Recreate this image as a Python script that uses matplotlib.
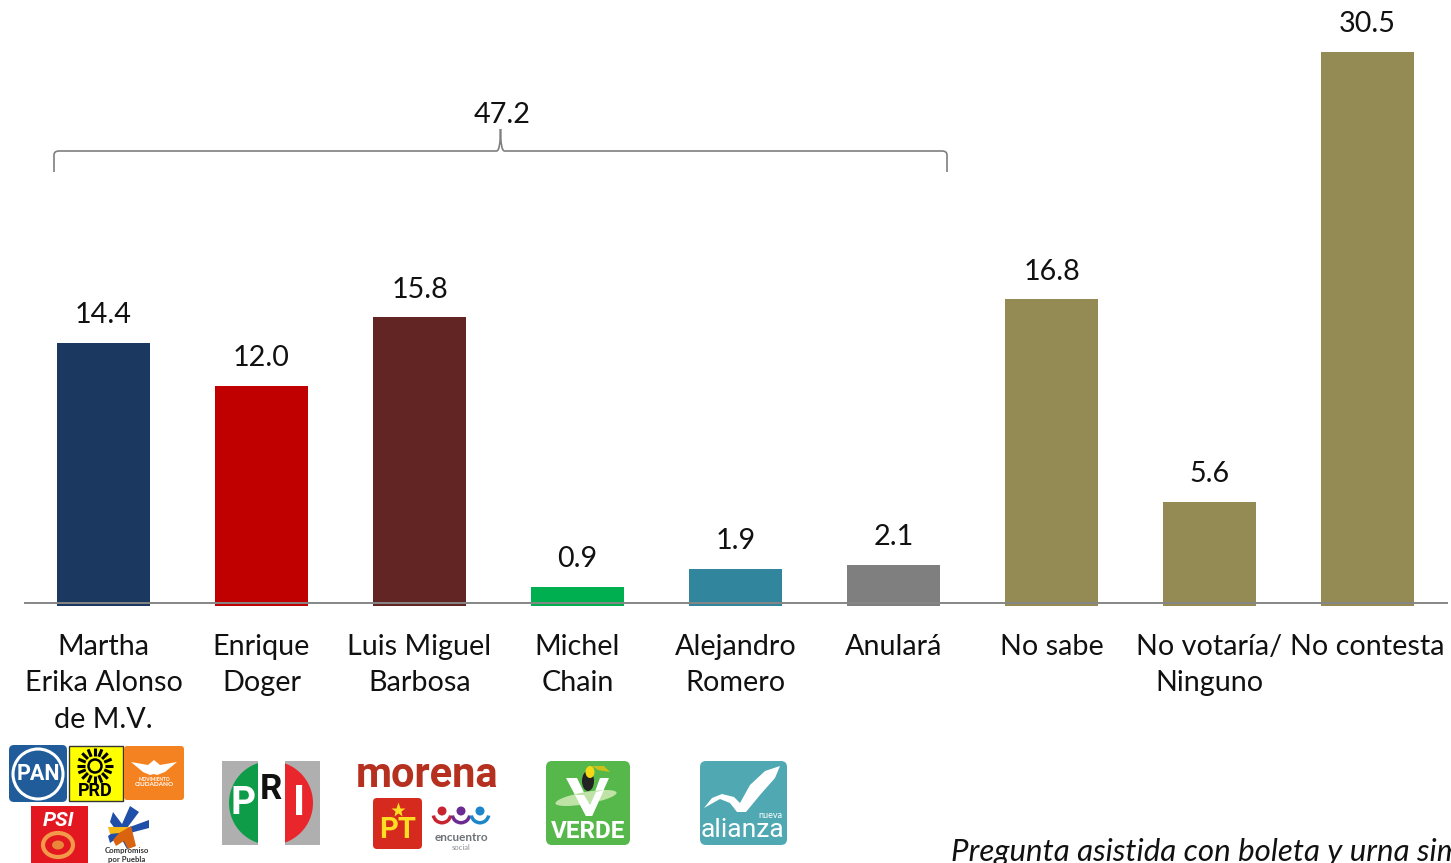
import numpy as np
import matplotlib
matplotlib.use("Agg")
import matplotlib.pyplot as plt
from matplotlib.patches import FancyBboxPatch, Rectangle, Wedge, Polygon, Circle, PathPatch, Ellipse
from matplotlib.path import Path

plt.rcParams['font.family'] = ['Lato', 'DejaVu Sans']

categories = ["Martha\nErika Alonso\nde M.V.", "Enrique\nDoger", "Luis Miguel\nBarbosa", "Michel\nChain",
              "Alejandro\nRomero", "Anulará", "No sabe", "No votaría/\nNinguno", "No contesta"]
values = [14.4, 12.0, 15.8, 0.9, 1.9, 2.1, 16.8, 5.6, 30.5]
bar_colors = ["#1A3860", "#C00000", "#632523", "#00B050", "#31859C", "#7F7F7F", "#948A54", "#948A54", "#948A54"]
bracket_total = "47.2"
footnote = "Pregunta asistida con boleta y urna simulada"

W, H = 1451, 863
LOGO = "Roboto"
fig = plt.figure(figsize=(W / 100, H / 100), dpi=100, facecolor="white")

# main chart: pixel box, baseline at y=603, about 18.07 px per unit
PX = 18.07
base_y = 603
top_y = 20
ax = fig.add_axes([24.5 / W, 1 - base_y / H, (1446.5 - 24.5) / W, (base_y - top_y) / H])
ax.set_xlim(-0.5, len(values) - 0.5)
ax.set_ylim(0, (base_y - top_y) / PX)
x = np.arange(len(values))
overhang = 0.15
ax.bar(x, np.array(values) + overhang, bottom=-overhang, width=0.592, color=bar_colors, clip_on=False, zorder=1)
for xi, v in zip(x, values):
    ax.annotate(f"{v:.1f}", (xi, v), xytext=(0, 20), textcoords="offset points",
                ha="center", va="center", fontsize=20.7, color="#111111")
for s in ["top", "left", "right"]:
    ax.spines[s].set_visible(False)
ax.spines["bottom"].set_color("#868686")
ax.spines["bottom"].set_linewidth(1.4)
ax.spines["bottom"].set_zorder(3)
ax.set_yticks([])
ax.set_xticks(x)
ax.set_xticklabels(categories, fontsize=20.7, color="#111111", linespacing=1.5)
ax.tick_params(axis="x", length=0, pad=22)

# overlay in pixel coordinates
ov = fig.add_axes([0, 0, 1, 1], zorder=5)
ov.set_xlim(0, W)
ov.set_ylim(H, 0)
ov.axis("off")
ov.patch.set_alpha(0)

# bracket
xl, xr, xm = 54, 947, 500.5
yb, yl, yt = 172, 151, 129
verts = [(xl, yb), (xl, yl + 4), (xl, yl), (xl + 5, yl), (xm - 4, yl), (xm, yl), (xm, yt),
         (xm, yl), (xm + 4, yl), (xr - 5, yl), (xr, yl), (xr, yl + 4), (xr, yb)]
codes = [Path.MOVETO, Path.LINETO, Path.CURVE3, Path.CURVE3, Path.LINETO, Path.CURVE3, Path.CURVE3,
         Path.CURVE3, Path.CURVE3, Path.LINETO, Path.CURVE3, Path.CURVE3, Path.LINETO]
ov.add_patch(PathPatch(Path(verts, codes), fc="none", ec="#7F7F7F", lw=1.2))
ov.text(502, 115, bracket_total, ha="center", va="center", fontsize=20.7, color="#111111")


def box(x0, y0, x1, y1, color, r=5, **kw):
    p = FancyBboxPatch((x0 + r, y0 + r), x1 - x0 - 2 * r, y1 - y0 - 2 * r,
                       boxstyle=f"round,pad={r},rounding_size={r}", fc=color, ec=kw.pop("ec", "none"), **kw)
    ov.add_patch(p)


def label(x0, y0, s, size, color="white", weight="bold", **kw):
    ov.text(x0, y0, s, ha="center", va="center", fontsize=size, color=color, fontweight=weight, **kw)


# PAN
box(9, 745, 67, 802, "#1F5C99", r=5)
ov.add_patch(Circle((38, 774), 25, fc="none", ec="white", lw=2.2))
label(38, 774, "PAN", 15.5, family=LOGO)
# PRD
ov.add_patch(Rectangle((68.5, 745.5), 54, 55, fc="#FFFF00", ec="#333333", lw=1))
for a in np.linspace(0, 2 * np.pi, 16, endpoint=False):
    ov.plot([95 + 10 * np.cos(a), 95 + 18 * np.cos(a)], [766 + 10 * np.sin(a), 766 + 18 * np.sin(a)],
            color="black", lw=2.2, solid_capstyle="butt")
ov.add_patch(Circle((95, 766), 6.5, fc="none", ec="black", lw=1.8))
label(95, 791, "PRD", 13, color="black", family=LOGO)
# Movimiento Ciudadano
box(124, 746, 184, 800, "#F58220", r=3)
ov.add_patch(Polygon([(131, 762), (148, 765), (154, 760), (160, 765), (177, 762), (165, 772), (157, 775),
                      (154, 774), (150, 775), (143, 772)], fc="white", ec="none"))
label(154, 779, "MOVIMIENTO", 3.4)
label(154, 784.5, "CIUDADANO", 4.6)
# PSI
ov.add_patch(Rectangle((31, 806), 57, 57, fc="#E2171F", ec="none"))
label(59, 820, "PSI", 15, style="italic", family=LOGO)
ov.add_patch(Ellipse((58, 845), 30, 24, fc="none", ec="#F39A4A", lw=3))
ov.add_patch(Ellipse((58, 845), 12, 9, fc="#E9873A", ec="none"))
# Compromiso por Puebla
ov.add_patch(Polygon([(113, 812), (122, 824), (130, 806), (139, 812), (127, 828), (149, 820), (149, 828), (130, 833),
                      (135, 846), (127, 849), (120, 836), (110, 843), (108, 836), (116, 830), (110, 822)],
                     fc="#1F4FA8", ec="none"))
ov.add_patch(Polygon([(108, 827), (128, 827), (131, 834), (122, 840), (119, 833), (110, 834)], fc="#F6B91A", ec="none"))
ov.add_patch(Polygon([(119, 833), (131, 826), (136, 846), (128, 849), (124, 841), (116, 846), (113, 840)], fc="#D9630F", ec="none"))
label(127, 850, "Compromiso", 5.6, color="#333333")
label(127, 859, "por Puebla", 5.6, color="#333333")
# PRI
ov.add_patch(Rectangle((222, 761), 98, 84, fc="#AFAFAF", ec="none"))
ov.add_patch(Wedge((271, 803), 42, 90, 270, fc="#0E9C48", ec="none"))
ov.add_patch(Wedge((271, 803), 42, -90, 90, fc="#E8262B", ec="none"))
ov.add_patch(Rectangle((258, 761), 27, 84, fc="white", ec="none"))
label(243, 803, "P", 28, family=LOGO)
label(271, 789, "R", 25, color="#111111", family=LOGO)
label(299, 803, "I", 30, family=LOGO)
# morena + PT + encuentro
label(427, 775, "morena", 30, color="#B5301F", family=LOGO)
box(373, 798, 422, 849, "#D62A1E", r=4)
label(397.5, 830, "PT", 21, color="#FFDD22", family=LOGO)
ov.plot([397.5], [810], marker="*", color="#FFDD22", ms=11, mec="none")
for cx, col in zip([442, 461, 480], ["#C8242F", "#6A2C91", "#1C86C8"]):
    ov.add_patch(Circle((cx, 811), 4.5, fc=col, ec="none"))
    ov.add_patch(Wedge((cx, 814), 10.5, 10, 170, width=3.5, fc=col, ec="none"))
label(461, 837, "encuentro", 8.5, color="#6D7278")
label(461, 847, "social", 5.5, color="#8A8F94", weight="normal")
# Verde
box(546, 761, 630, 845, "#56B84A", r=6)
ov.add_patch(Polygon([(566, 778), (577, 778), (590, 805), (600, 778), (609, 778), (592, 816), (586, 816)], fc="white", ec="none"))
ov.add_patch(Ellipse((586, 798), 62, 12, angle=-10, fc="#BFE3A6", ec="none"))
ov.add_patch(Polygon([(575, 795), (584, 795), (590, 805), (596, 792), (604, 790), (592, 816), (586, 816)], fc="white", ec="none"))
ov.add_patch(Ellipse((588, 781), 12, 20, fc="#222222", ec="none"))
ov.add_patch(Ellipse((590, 772), 9, 12, fc="#F5D816", ec="none"))
ov.add_patch(Polygon([(592, 766), (604, 766), (610, 772), (598, 770)], fc="#C9C01A", ec="none"))
label(588, 831, "VERDE", 17.5, family=LOGO)
# Nueva Alianza
box(700, 761, 787, 845, "#50A8B2", r=6)
ov.add_patch(Polygon([(704, 808), (712, 798), (722, 794), (734, 797), (740, 803), (750, 785), (765, 771), (780, 766),
                      (775, 778), (760, 795), (746, 812), (737, 812), (730, 803), (720, 799)], fc="white", ec="none"))
label(770, 815, "nueva", 6.5, weight="normal")
label(743, 830, "alianza", 19, weight="normal", family=LOGO)

# footnote, cut by the canvas as in the original
ov.text(951, 861, footnote, ha="left", va="baseline", fontsize=22.5, style="italic", color="#111111",
        clip_on=False)

fig.savefig("out.png", dpi=100, facecolor="white")
